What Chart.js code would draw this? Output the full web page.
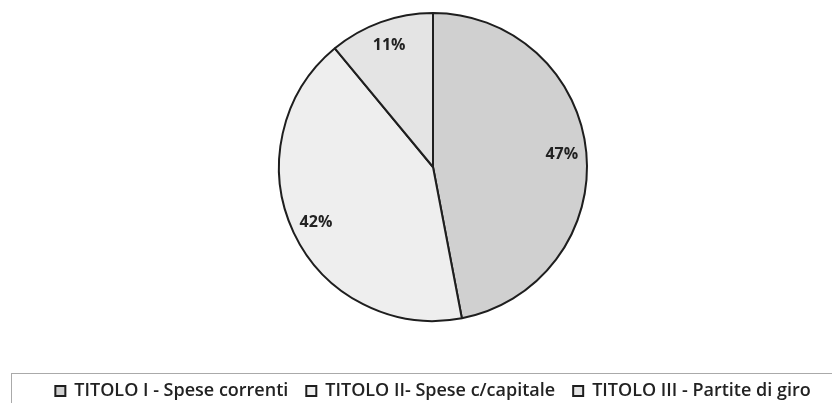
<!DOCTYPE html>
<html>
<head>
<meta charset="utf-8">
<script src="https://cdn.jsdelivr.net/npm/chart.js@4"></script>
<style>
  html, body { margin: 0; padding: 0; background: #fff; }
  #wrap { width: 832px; height: 403px; }
</style>
</head>
<body>
<div id="wrap"><canvas id="chart1" width="832" height="403"></canvas></div>
<script>
// Spese per titolo (percentuali)
const titoli = ['TITOLO I - Spese correnti', 'TITOLO II- Spese c/capitale', 'TITOLO III - Partite di giro']
const percentuali = [47, 42, 11]
const colori = ['#d0d0d0', '#eeeeee', '#e4e4e4']

// percent labels inside the slices
const labelsPlugin = {
    id: 'pctLabels',
    afterDatasetsDraw(chart) {
        const ctx = chart.ctx
        const meta = chart.getDatasetMeta(0)
        ctx.save()
        ctx.font = 'bold 16px "Open Sans"'
        ctx.fillStyle = '#222'
        ctx.textAlign = 'center'
        ctx.textBaseline = 'middle'
        meta.data.forEach((arc, i) => {
            const {x, y, startAngle, endAngle, outerRadius} = arc.getProps(['x', 'y', 'startAngle', 'endAngle', 'outerRadius'])
            const mid = (startAngle + endAngle) / 2
            const d = outerRadius * 0.84
            ctx.fillText(percentuali[i] + '%', x + Math.cos(mid) * d, y + Math.sin(mid) * d)
        })
        ctx.restore()
    }
}

// frame round the legend, like the excel one
const legendFrame = {
    id: 'legendFrame',
    afterDraw(chart) {
        const ctx = chart.ctx
        ctx.save()
        ctx.strokeStyle = '#aaaaaa'
        ctx.lineWidth = 1
        ctx.strokeRect(11.5, 373.5, 840, 60)
        ctx.restore()
    }
}

const ctx1 = document.getElementById('chart1').getContext('2d')

const speseChart = new Chart(ctx1, {
    type: 'pie',
    data: {
        labels: titoli,
        datasets: [{
            data: percentuali,
            backgroundColor: colori,
            borderColor: '#1e1e1e',
            borderWidth: 2,
            hoverOffset: 0
        }]
    },
    options: {
        responsive: false,
        animation: false,
        layout: { padding: { top: 12, bottom: -7, left: 34, right: 0 } },
        plugins: {
            tooltip: { enabled: false },
            legend: {
                position: 'bottom',
                title: { display: true, text: ' ', font: { size: 10 }, padding: { top: 0, bottom: 30 } },
                labels: {
                    boxWidth: 10,
                    boxHeight: 10,
                    padding: 18,
                    color: '#222',
                    font: { family: '"Open Sans"', size: 18, weight: '600' }
                }
            }
        }
    },
    plugins: [labelsPlugin, legendFrame]
})
</script>
</body>
</html>
